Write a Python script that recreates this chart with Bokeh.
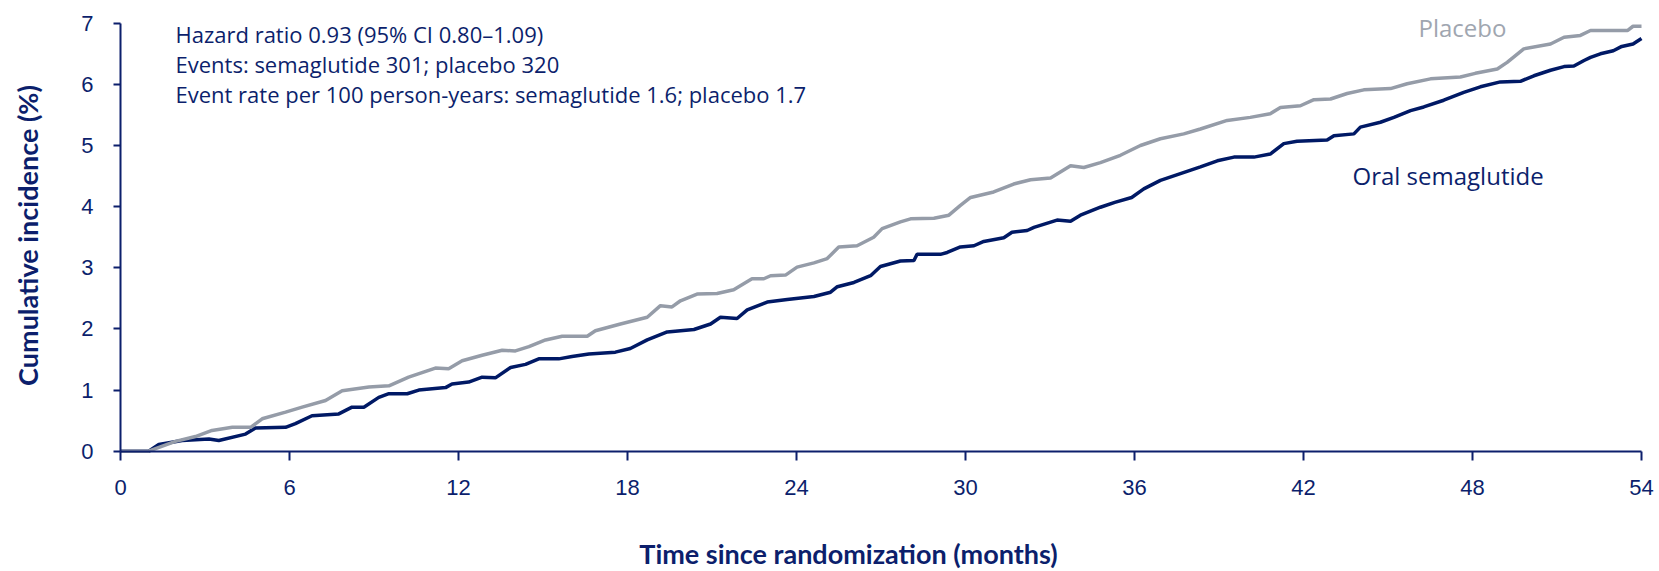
import math
from bokeh.plotting import figure
from bokeh.models import FixedTicker, Label, Range1d
from bokeh.embed import file_html
from bokeh.resources import INLINE

# ---- data ----
months_ticks = [0, 6, 12, 18, 24, 30, 36, 42, 48, 54]
pct_ticks = [0, 1, 2, 3, 4, 5, 6, 7]

sema_t = [0, 1.0, 1.36, 2.19, 3.14, 3.49, 4.44, 4.79, 5.86, 6.21, 6.8, 7.75, 8.22, 8.64,
          9.17, 9.53, 10.18, 10.59, 11.54, 11.77, 12.36, 12.84, 13.31, 13.85, 14.38, 14.85,
          15.56, 16.03, 16.63, 17.57, 18.1, 18.7, 19.41, 20.36, 20.95, 21.3, 21.89, 22.25,
          22.96, 23.67, 24.62, 25.21, 25.45, 26.04, 26.63, 26.98, 27.69, 28.17, 28.28, 29.11,
          29.35, 29.82, 30.3, 30.65, 31.36, 31.65, 32.19, 32.43, 33.25, 33.73, 34.08, 34.79,
          35.3, 35.9, 36.33, 36.92, 37.63, 38.34, 38.94, 39.53, 40.24, 40.82, 41.3, 41.77,
          42.84, 43.08, 43.79, 44.02, 44.73, 45.21, 45.8, 46.27, 46.98, 47.69, 48.28, 48.99,
          49.7, 50.18, 50.77, 51.25, 51.6, 51.96, 52.19, 52.54, 53.0, 53.3, 53.7, 54.0]
sema_v = [0, 0, 0.11, 0.175, 0.2, 0.175, 0.28, 0.38, 0.39, 0.45, 0.58, 0.61, 0.72, 0.72,
          0.88, 0.94, 0.94, 1.0, 1.04, 1.1, 1.13, 1.21, 1.2, 1.37, 1.42, 1.51,
          1.51, 1.55, 1.59, 1.62, 1.68, 1.82, 1.95, 1.99, 2.08, 2.19, 2.17, 2.31,
          2.44, 2.48, 2.53, 2.6, 2.69, 2.76, 2.87, 3.02, 3.11, 3.12, 3.22, 3.22,
          3.25, 3.34, 3.36, 3.43, 3.49, 3.58, 3.61, 3.66, 3.78, 3.76, 3.86, 3.99,
          4.07, 4.15, 4.29, 4.43, 4.54, 4.65, 4.75, 4.81, 4.81, 4.86, 5.03, 5.07,
          5.09, 5.16, 5.19, 5.3, 5.38, 5.46, 5.57, 5.63, 5.74, 5.87, 5.96, 6.04,
          6.05, 6.14, 6.23, 6.29, 6.3, 6.39, 6.44, 6.5, 6.55, 6.62, 6.66, 6.75]

plac_t = [0, 1.0, 1.95, 2.66, 3.25, 3.97, 4.62, 5.03, 5.86, 6.45, 7.28, 7.87, 8.82, 9.53,
          10.23, 11.18, 11.65, 12.13, 12.84, 13.55, 14.02, 14.5, 15.09, 15.68, 16.57, 16.86,
          17.75, 18.7, 19.17, 19.58, 19.88, 20.47, 21.18, 21.77, 22.42, 22.84, 23.08, 23.61,
          24.02, 24.62, 25.09, 25.5, 26.15, 26.74, 27.04, 27.69, 28.05, 28.88, 29.41, 29.82,
          30.18, 31.0, 31.71, 32.31, 33.02, 33.73, 34.2, 34.79, 35.5, 36.21, 36.92, 37.75,
          38.34, 39.29, 40.11, 40.82, 41.18, 41.89, 42.37, 42.96, 43.55, 44.14, 45.09, 45.68,
          46.51, 47.57, 48.1, 48.88, 49.23, 49.82, 50.77, 51.25, 51.83, 52.19, 53.5, 53.7, 54.0]
plac_v = [0, 0, 0.16, 0.24, 0.34, 0.39, 0.39, 0.53, 0.64, 0.72, 0.83, 0.99, 1.05, 1.07,
          1.21, 1.36, 1.35, 1.48, 1.57, 1.65, 1.64, 1.71, 1.82, 1.88, 1.88, 1.97,
          2.08, 2.19, 2.38, 2.36, 2.46, 2.57, 2.58, 2.64, 2.82, 2.82, 2.87, 2.88,
          3.01, 3.08, 3.15, 3.34, 3.36, 3.5, 3.64, 3.75, 3.8, 3.81, 3.86, 4.02,
          4.15, 4.24, 4.37, 4.44, 4.47, 4.67, 4.64, 4.72, 4.84, 5.0, 5.11, 5.19,
          5.27, 5.41, 5.46, 5.52, 5.62, 5.65, 5.75, 5.76, 5.85, 5.91, 5.93, 6.01,
          6.09, 6.12, 6.18, 6.25, 6.36, 6.58, 6.66, 6.77, 6.8, 6.88, 6.88, 6.95, 6.95]

info_lines = ["Hazard ratio 0.93 (95% CI 0.80\u20131.09)",
              "Events: semaglutide 301; placebo 320",
              "Event rate per 100 person-years: semaglutide 1.6; placebo 1.7"]
series_names = ["Oral semaglutide", "Placebo"]
x_title = "Time since randomization (months)"
y_title = "Cumulative incidence (%)"

# ---- layout (pixels) ----
W, H = 1659, 571
X0_PX, X54_PX = 120.0, 1641.0       # where months 0 and 54 fall
Y0_PX, Y7_PX = 450.7, 22.7          # where 0 % and 7 % fall
sx = (X54_PX - X0_PX) / 54.0
sy = (Y0_PX - Y7_PX) / 7.0
x_lo, x_hi = -X0_PX / sx, 54.0 + (W - X54_PX) / sx
y_lo, y_hi = -(H - Y0_PX) / sy, 7.0 + Y7_PX / sy

def px_to_x(px):
    return (px - X0_PX) / sx

def px_to_y(py):
    return (Y0_PX - py) / sy

# ---- styling ----
NAVY = "#0c1f6c"
LINE_NAVY = "#001965"
GREY = "#959ca8"
GREY_TXT = "#a0a6b0"

p = figure(width=W, height=H, title=None, output_backend="svg", toolbar_location=None,
           x_range=Range1d(x_lo, x_hi), y_range=Range1d(y_lo, y_hi),
           min_border=0)
p.outline_line_color = None
p.grid.visible = False
p.background_fill_color = "white"
p.border_fill_color = "white"

for ax in (p.xaxis[0], p.yaxis[0]):
    ax.fixed_location = 0
    ax.axis_line_color = NAVY
    ax.axis_line_width = 2
    ax.major_tick_line_color = NAVY
    ax.major_tick_line_width = 2
    ax.major_tick_in = 0
    ax.minor_tick_line_color = None
    ax.major_label_text_color = NAVY
    ax.major_label_text_font = "Liberation Sans"
    ax.major_label_text_font_size = "22px"
    ax.major_label_standoff = 20

p.xaxis.ticker = FixedTicker(ticks=months_ticks)
p.yaxis.ticker = FixedTicker(ticks=pct_ticks)
p.xaxis.bounds = (0, 54)
p.yaxis.bounds = (0, 7)
p.xaxis.major_tick_out = 9
p.yaxis.major_tick_out = 7

p.line(sema_t, sema_v, line_color=LINE_NAVY, line_width=3.5)
p.line(plac_t, plac_v, line_color=GREY, line_width=3.5)

# info text block (baselines)
for i, txt in enumerate(info_lines):
    p.add_layout(Label(x=px_to_x(175), y=px_to_y(33 + 30 * i), text=txt, text_font="Open Sans",
                       text_font_size="22px", text_color=NAVY, text_baseline="alphabetic"))

# series labels
p.add_layout(Label(x=px_to_x(1418), y=px_to_y(27), text=series_names[1], text_font="Open Sans",
                   text_font_size="24px", text_color=GREY_TXT, text_baseline="alphabetic"))
p.add_layout(Label(x=px_to_x(1352), y=px_to_y(175), text=series_names[0], text_font="Open Sans",
                   text_font_size="24px", text_color=NAVY, text_baseline="alphabetic"))

# axis titles
p.add_layout(Label(x=px_to_x(848), y=px_to_y(553), text=x_title, text_font="Lato",
                   text_font_style="bold", text_font_size="27px", text_color=NAVY,
                   text_align="center", text_baseline="middle"))
p.add_layout(Label(x=px_to_x(27), y=px_to_y(235), text=y_title, text_font="Lato",
                   text_font_style="bold", text_font_size="27px", text_color=NAVY,
                   text_align="center", text_baseline="middle", angle=math.pi / 2))

open("out.html", "w").write(file_html(p, INLINE))
